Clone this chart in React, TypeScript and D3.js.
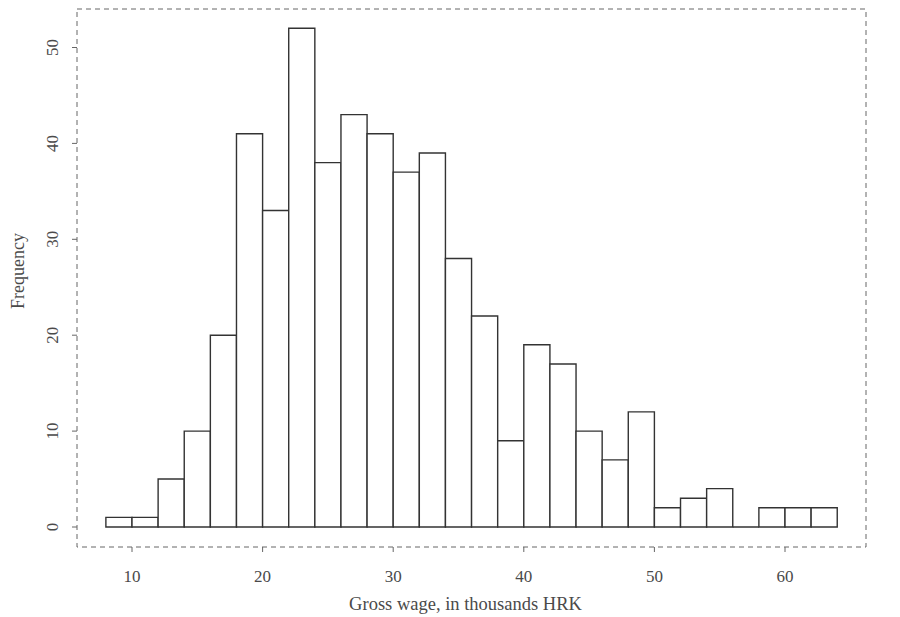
import { useEffect, useRef } from 'react';
import * as d3 from 'd3';

// bin edges (thousands HRK), width 2
const binStarts = [8, 10, 12, 14, 16, 18, 20, 22, 24, 26, 28, 30, 32, 34, 36, 38, 40, 42, 44, 46, 48, 50, 52, 54, 56, 58, 60, 62];
const counts = [1, 1, 5, 10, 20, 41, 33, 52, 38, 43, 41, 37, 39, 28, 22, 9, 19, 17, 10, 7, 12, 2, 3, 4, 0, 2, 2, 2];
const binWidth = 2;
const xTicks = [10, 20, 30, 40, 50, 60];
const yTicks = [0, 10, 20, 30, 40, 50];
const xTitle = 'Gross wage, in thousands HRK';
const yTitle = 'Frequency';

export default function App() {
  const svgRef = useRef<SVGSVGElement | null>(null);
  const width = 900;
  const height = 617;

  useEffect(() => {
    if (!svgRef.current) return;
    const svg = d3.select(svgRef.current);
    svg.selectAll('*').remove();

    const font = '"Liberation Serif", "DejaVu Serif", serif';
    const textColor = '#4a4a4a';
    const box = { left: 77, right: 866, top: 9, bottom: 547 };

    const x = d3.scaleLinear().domain([10, 60]).range([132, 785]);
    const y = d3.scaleLinear().domain([0, 50]).range([527, 47.5]);

    // dashed frame
    svg.append('rect')
      .attr('x', box.left)
      .attr('y', box.top)
      .attr('width', box.right - box.left)
      .attr('height', box.bottom - box.top)
      .attr('fill', 'none')
      .attr('stroke', '#666')
      .attr('stroke-width', 1)
      .attr('stroke-dasharray', '5 4');

    // bars (as closed paths so empty bins still draw their baseline)
    const data = binStarts.map((s, i) => ({ x0: s, x1: s + binWidth, n: counts[i] }));
    svg.append('g')
      .selectAll('path')
      .data(data)
      .enter()
      .append('path')
      .attr('d', d => {
        const p = d3.path();
        p.moveTo(x(d.x0), y(0));
        p.lineTo(x(d.x0), y(d.n));
        p.lineTo(x(d.x1), y(d.n));
        p.lineTo(x(d.x1), y(0));
        p.closePath();
        return p.toString();
      })
      .attr('fill', '#fff')
      .attr('stroke', '#333')
      .attr('stroke-width', 1.4);

    // x axis ticks & labels
    const xa = svg.append('g');
    xa.selectAll('line')
      .data(xTicks)
      .enter()
      .append('line')
      .attr('x1', d => x(d))
      .attr('x2', d => x(d))
      .attr('y1', box.bottom)
      .attr('y2', box.bottom + 5)
      .attr('stroke', '#666');
    xa.selectAll('text')
      .data(xTicks)
      .enter()
      .append('text')
      .attr('x', d => x(d))
      .attr('y', 582)
      .attr('text-anchor', 'middle')
      .style('font-family', font)
      .style('font-size', '17px')
      .style('fill', textColor)
      .text(d => d);

    // y axis ticks & labels
    const ya = svg.append('g');
    ya.selectAll('line')
      .data(yTicks)
      .enter()
      .append('line')
      .attr('x1', box.left - 5)
      .attr('x2', box.left)
      .attr('y1', d => y(d))
      .attr('y2', d => y(d))
      .attr('stroke', '#666');
    ya.selectAll('text')
      .data(yTicks)
      .enter()
      .append('text')
      .attr('transform', d => `translate(58, ${y(d)}) rotate(-90)`)
      .attr('text-anchor', 'middle')
      .style('font-family', font)
      .style('font-size', '17px')
      .style('fill', textColor)
      .text(d => d);

    // titles
    svg.append('text')
      .attr('x', (box.left + box.right) / 2 - 6)
      .attr('y', 610)
      .attr('text-anchor', 'middle')
      .style('font-family', font)
      .style('font-size', '18.5px')
      .style('fill', textColor)
      .text(xTitle);

    svg.append('text')
      .attr('transform', `translate(24, 271) rotate(-90)`)
      .attr('text-anchor', 'middle')
      .style('font-family', font)
      .style('font-size', '18px')
      .style('fill', textColor)
      .text(yTitle);
  }, []);

  return (
    <svg
      ref={svgRef}
      width={width}
      height={height}
      style={{ position: 'absolute', left: 0, top: 0, background: '#fff' }}
    />
  );
}
